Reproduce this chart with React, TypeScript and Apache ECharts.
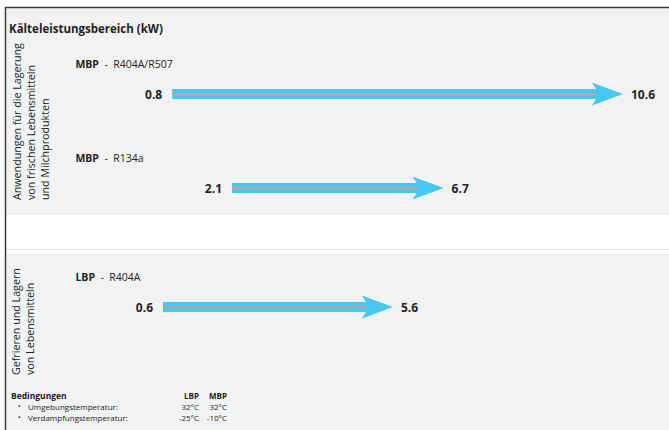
import React, { useEffect, useRef } from "react";
import * as echarts from "echarts";

// ---- data ----
const chartTitle = "Kälteleistungsbereich (kW)";
const groups = ["MBP", "MBP", "LBP"];
const refrigerants = ["R404A/R507", "R134a", "R404A"];
const minCapacity = [0.8, 2.1, 0.6];
const maxCapacity = [10.6, 6.7, 5.6];
const rowSection = [0, 0, 1];
const sectionLabels = [
  "Anwendungen für die Lagerung\nvon frischen Lebensmitteln\nund Milchprodukten",
  "Gefrieren und Lagern\nvon Lebensmitteln",
];
const conditionsTitle = "Bedingungen";
const conditionColumns = ["LBP", "MBP"];
const conditionLabels = ["Umgebungstemperatur:", "Verdampfungstemperatur:"];
const lbpConditions = ["32°C", "-25°C"];
const mbpConditions = ["32°C", "-10°C"];

// ---- style ----
const FONT = "'Open Sans', Lato, sans-serif";
const BLUE = "#48c8f1";
const GRAY_LINE = "#a8aaad";
const TEXT = "#231f20";
const PANEL = "#f1f2f4";

export default function App() {
  const ref = useRef<HTMLDivElement>(null);

  useEffect(() => {
    if (!ref.current) return;
    const chart = echarts.init(ref.current, null, { renderer: "svg" });

    const rows = groups.map((g, i) => ({
      group: g,
      refrigerant: refrigerants[i],
      min: minCapacity[i],
      max: maxCapacity[i],
      section: rowSection[i],
    }));
    const sectionRows = sectionLabels.map((_, s) => rows.filter((r) => r.section === s));

    const makeRenderItem = (s: number) => (params: any, api: any) => {
      const row = sectionRows[s][params.dataIndex];
      const p0 = api.coord([api.value(0), api.value(2)]);
      const p1 = api.coord([api.value(1), api.value(2)]);
      const S = p0[0];
      const T = p1[0];
      const y = p0[1];
      const labelX = params.coordSys.x - 60;
      return {
        type: "group",
        children: [
          {
            type: "rect",
            shape: { x: S, y: y - 5, width: T - 24 - S, height: 10 },
            style: { fill: BLUE },
          },
          {
            type: "polygon",
            shape: {
              points: [
                [T - 31, y - 11.5],
                [T, y],
                [T - 31, y + 11.5],
                [T - 24, y],
              ],
            },
            style: { fill: BLUE },
          },
          {
            type: "rect",
            shape: { x: S, y: y - 1.25, width: T - 26 - S, height: 2.5 },
            style: { fill: GRAY_LINE },
          },
          {
            type: "text",
            style: {
              text: String(api.value(0)),
              x: S - 10,
              y: y,
              align: "right",
              verticalAlign: "middle",
              font: `bold 12px ${FONT}`,
              fill: TEXT,
            },
          },
          {
            type: "text",
            style: {
              text: String(api.value(1)),
              x: T + 8,
              y: y,
              align: "left",
              verticalAlign: "middle",
              font: `bold 12px ${FONT}`,
              fill: TEXT,
            },
          },
          {
            type: "text",
            style: {
              text: `{b|${row.group}}{n|  -  ${row.refrigerant}}`,
              x: labelX,
              y: y - 30,
              align: "left",
              verticalAlign: "middle",
              rich: {
                b: { fontWeight: "bold", fontSize: 10.5, fontFamily: FONT, fill: TEXT },
                n: { fontSize: 10.5, fontFamily: FONT, fill: TEXT },
              },
            },
          },
        ],
      };
    };

    const graphic: any[] = [
      { type: "rect", z: 0, shape: { x: 6, y: 8, width: 663, height: 207 }, style: { fill: PANEL } },
      { type: "rect", z: 0, shape: { x: 6, y: 249, width: 663, height: 1 }, style: { fill: "#e8e9eb" } },
      { type: "rect", z: 0, shape: { x: 6, y: 254, width: 663, height: 176 }, style: { fill: PANEL } },
      { type: "line", z: 1, shape: { x1: 5, y1: 7.5, x2: 669, y2: 7.5 }, style: { stroke: "#3a3a3a", lineWidth: 1.5 } },
      { type: "line", z: 1, shape: { x1: 5.5, y1: 7, x2: 5.5, y2: 430 }, style: { stroke: "#3a3a3a", lineWidth: 1.5 } },
      {
        type: "text",
        z: 1,
        x: 9,
        y: 28,
        style: { text: chartTitle, font: `bold 11.5px ${FONT}`, fill: TEXT, align: "left", verticalAlign: "middle" },
      },
      {
        type: "text",
        z: 1,
        x: 10,
        y: 200,
        rotation: Math.PI / 2,
        style: { text: sectionLabels[0], font: `10.7px ${FONT}`, fill: TEXT, align: "left", verticalAlign: "top", lineHeight: 14 },
      },
      {
        type: "text",
        z: 1,
        x: 9,
        y: 375,
        rotation: Math.PI / 2,
        style: { text: sectionLabels[1], font: `10.7px ${FONT}`, fill: TEXT, align: "left", verticalAlign: "top", lineHeight: 14 },
      },
      {
        type: "text",
        z: 1,
        x: 11,
        y: 395,
        style: { text: conditionsTitle, font: `bold 8.5px ${FONT}`, fill: TEXT, align: "left", verticalAlign: "middle" },
      },
      ...conditionColumns.map((c, i) => ({
        type: "text",
        z: 1,
        x: i === 0 ? 199 : 227,
        y: 395,
        style: { text: c, font: `bold 8px ${FONT}`, fill: TEXT, align: "right", verticalAlign: "middle" },
      })),
      ...conditionLabels.flatMap((lab, i) => [
        {
          type: "text",
          z: 1,
          x: 18,
          y: 406 + i * 11,
          style: { text: "•", font: `7px ${FONT}`, fill: TEXT, align: "left", verticalAlign: "middle" },
        },
        {
          type: "text",
          z: 1,
          x: 28,
          y: 406 + i * 11,
          style: { text: lab, font: `8px ${FONT}`, fill: TEXT, align: "left", verticalAlign: "middle" },
        },
        {
          type: "text",
          z: 1,
          x: 199,
          y: 406 + i * 11,
          style: { text: lbpConditions[i], font: `8px ${FONT}`, fill: TEXT, align: "right", verticalAlign: "middle" },
        },
        {
          type: "text",
          z: 1,
          x: 227,
          y: 406 + i * 11,
          style: { text: mbpConditions[i], font: `8px ${FONT}`, fill: TEXT, align: "right", verticalAlign: "middle" },
        },
      ]),
    ];

    const gridLeft = 135.4;
    const gridWidth = 506; // 46 px per kW over 0..11

    chart.setOption({
      animation: false,
      backgroundColor: "#ffffff",
      grid: [
        { left: gridLeft, width: gridWidth, top: 47, height: 188 },
        { left: gridLeft, width: gridWidth, top: 260, height: 94 },
      ],
      xAxis: [0, 1].map((g) => ({ type: "value", gridIndex: g, min: 0, max: 11, show: false })),
      yAxis: [0, 1].map((g) => ({
        type: "category",
        gridIndex: g,
        inverse: true,
        show: false,
        data: sectionRows[g].map((r) => `${r.group} - ${r.refrigerant}`),
      })),
      graphic,
      series: [0, 1].map((s) => ({
        type: "custom",
        xAxisIndex: s,
        yAxisIndex: s,
        z: 3,
        renderItem: makeRenderItem(s),
        encode: { x: [0, 1], y: 2 },
        data: sectionRows[s].map((r, i) => ({ name: `${r.group} - ${r.refrigerant}`, value: [r.min, r.max, i] })),
      })),
    });

    return () => chart.dispose();
  }, []);

  return (
    <div
      ref={ref}
      style={{ position: "fixed", left: 0, top: 0, width: 669, height: 430 }}
    />
  );
}
